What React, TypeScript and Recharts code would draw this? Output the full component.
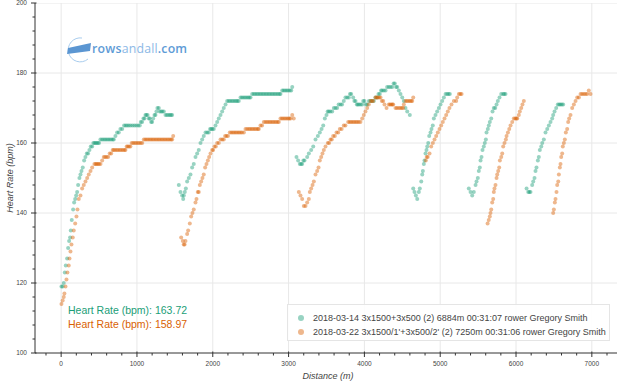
import React from "react";
import { ScatterChart, Scatter, XAxis, YAxis, ReferenceLine } from "recharts";

// ---- data: [distance (m), heart rate (bpm)] ----
const greenPoints: [number, number][] = [
  [4,119],[20,119],[34,120],[48,123],[61,125],[79,127],[92,130],[105,132],[118,133],[127,135],[140,138],[158,141],[171,143],[185,144],[198,145],[211,146],[224,148],[241,150],[255,151],[268,152],[285,153],[303,155],[320,156],[338,157],[355,157],[373,158],[390,159],[409,159],[425,160],[440,160],[455,160],[470,160],[485,160],[500,160],[518,161],[540,161],[560,161],[580,161],[600,161],[620,161],[640,161],[660,161],[680,161],[694,161],[716,162],[738,163],[760,163],[782,164],[805,164],[830,165],[850,165],[870,165],[892,165],[915,165],[940,165],[965,165],[990,165],[1015,165],[1037,165],[1050,166],[1068,166],[1085,167],[1099,167],[1112,168],[1125,168],[1140,168],[1156,167],[1170,167],[1187,166],[1200,166],[1214,167],[1231,168],[1244,168],[1257,169],[1270,170],[1288,170],[1300,169],[1319,169],[1335,169],[1354,169],[1376,168],[1395,168],[1415,168],[1435,168],[1450,168],[1464,168],
  [1552,148],[1574,146],[1596,145],[1610,144],[1618,145],[1631,146],[1645,147],[1662,149],[1684,150],[1706,151],[1728,153],[1749,154],[1772,156],[1794,157],[1815,158],[1838,160],[1860,161],[1881,162],[1904,163],[1926,163],[1947,163],[1965,164],[1979,164],[1995,164],[2013,164],[2036,165],[2058,166],[2079,167],[2102,168],[2124,169],[2145,170],[2168,171],[2190,172],[2210,172],[2230,172],[2250,172],[2270,172],[2290,172],[2310,172],[2325,172],[2343,172],[2366,173],[2385,173],[2405,173],[2425,173],[2445,173],[2465,173],[2482,173],[2498,173],[2520,174],[2540,174],[2560,174],[2580,174],[2600,174],[2620,174],[2640,174],[2660,174],[2680,174],[2700,174],[2720,174],[2740,174],[2760,174],[2780,174],[2800,174],[2820,174],[2840,174],[2860,174],[2880,174],[2893,174],[2916,175],[2935,175],[2955,175],[2975,175],[2995,175],[3015,175],[3035,175],[3048,176],
  [3104,156],[3126,155],[3148,154],[3165,154],[3179,154],[3195,155],[3210,155],[3245,156],[3267,157],[3298,158],[3325,159],[3355,161],[3386,162],[3412,163],[3435,164],[3457,165],[3478,167],[3500,168],[3515,169],[3531,169],[3550,169],[3575,169],[3597,170],[3619,170],[3640,170],[3660,171],[3685,171],[3705,171],[3728,172],[3750,173],[3773,173],[3795,173],[3810,174],[3826,174],[3852,173],[3868,172],[3883,172],[3900,171],[3913,171],[3930,171],[3950,171],[3971,171],[3985,172],[4001,172],[4020,171],[4037,171],[4060,172],[4081,172],[4100,172],[4124,172],[4146,173],[4169,173],[4186,174],[4203,174],[4220,175],[4235,175],[4257,175],[4279,175],[4300,176],[4322,176],[4345,176],[4367,176],[4385,177],[4401,177],[4418,176],[4433,176],[4454,175],[4476,174],[4499,173],[4520,172],[4542,170],[4565,169],[4599,168],
  [4644,147],[4661,146],[4679,145],[4697,144],[4718,146],[4731,147],[4750,149],[4763,151],[4771,152],[4784,154],[4793,155],[4806,157],[4819,158],[4829,159],[4842,160],[4855,162],[4872,163],[4885,164],[4902,165],[4916,167],[4938,168],[4960,169],[4982,170],[5004,171],[5026,172],[5048,173],[5071,174],[5092,174],[5110,174],[5127,174],
  [5377,147],[5400,146],[5422,145],[5443,146],[5466,148],[5479,149],[5496,150],[5509,152],[5522,153],[5532,155],[5545,156],[5558,158],[5575,159],[5588,160],[5602,161],[5611,163],[5628,164],[5641,165],[5654,166],[5673,167],[5690,169],[5707,170],[5726,170],[5743,171],[5760,172],[5782,173],[5805,174],[5831,174],[5845,174],[5861,174],
  [6139,147],[6161,146],[6176,146],[6191,146],[6213,148],[6227,149],[6244,150],[6257,152],[6270,153],[6288,155],[6301,156],[6314,158],[6333,159],[6346,160],[6367,161],[6389,163],[6412,164],[6433,165],[6455,166],[6477,167],[6490,168],[6508,169],[6530,170],[6551,171],[6570,171],[6587,171],[6605,171],[6622,171],
];

const orangePoints: [number, number][] = [
  [4,114],[20,115],[34,116],[43,117],[57,119],[70,121],[83,123],[100,125],[110,127],[123,129],[136,131],[153,133],[166,135],[185,137],[202,139],[215,141],[232,144],[255,145],[277,147],[298,148],[321,149],[343,150],[364,151],[387,152],[409,153],[439,154],[455,154],[470,154],[485,154],[500,154],[519,154],[541,155],[562,156],[580,156],[600,156],[620,156],[640,157],[660,157],[680,158],[694,158],[715,158],[735,158],[755,158],[775,158],[795,158],[815,158],[835,158],[848,158],[864,159],[879,159],[896,159],[914,159],[930,160],[950,160],[970,160],[990,160],[1010,160],[1030,160],[1050,160],[1070,160],[1090,161],[1110,161],[1130,161],[1150,161],[1170,161],[1190,161],[1210,161],[1230,161],[1250,161],[1270,161],[1290,161],[1310,161],[1330,161],[1350,161],[1370,161],[1390,161],[1410,161],[1430,161],[1450,161],[1464,161],[1478,162],
  [1583,133],[1605,132],[1617,131],[1628,131],[1640,132],[1662,134],[1675,135],[1697,137],[1715,139],[1732,140],[1749,141],[1772,143],[1785,144],[1802,146],[1815,146],[1829,148],[1847,149],[1864,150],[1881,151],[1899,153],[1917,154],[1935,155],[1952,156],[1970,157],[1992,158],[2005,158],[2022,159],[2040,159],[2058,160],[2080,160],[2102,161],[2125,161],[2145,161],[2163,162],[2181,162],[2200,162],[2224,163],[2245,163],[2265,163],[2285,163],[2305,163],[2325,163],[2345,163],[2365,163],[2385,163],[2410,163],[2432,164],[2454,164],[2475,164],[2495,164],[2515,164],[2535,164],[2555,164],[2575,164],[2595,164],[2607,164],[2629,165],[2650,165],[2673,166],[2695,166],[2715,166],[2735,166],[2755,166],[2775,166],[2795,166],[2815,166],[2835,166],[2855,166],[2871,166],[2893,167],[2913,167],[2933,167],[2953,167],[2973,167],[2993,167],[3010,167],[3026,167],[3048,168],[3068,167],
  [3135,146],[3157,145],[3179,144],[3201,142],[3223,142],[3245,143],[3267,144],[3280,146],[3298,147],[3316,148],[3333,149],[3355,151],[3377,152],[3395,153],[3412,155],[3430,156],[3447,157],[3465,158],[3487,159],[3517,160],[3535,160],[3553,161],[3570,161],[3588,162],[3610,162],[3632,163],[3655,163],[3676,164],[3700,164],[3728,165],[3750,165],[3786,166],[3805,166],[3825,166],[3845,166],[3865,166],[3885,166],[3905,166],[3925,166],[3948,166],[3971,167],[3992,168],[4014,169],[4037,170],[4058,171],[4081,172],[4100,172],[4116,172],[4146,173],[4160,173],[4177,173],[4195,173],[4213,173],[4230,172],[4248,172],[4265,171],[4292,170],[4322,171],[4338,171],[4354,171],[4370,171],[4380,171],[4410,170],[4430,170],[4454,170],[4476,170],[4495,170],[4512,170],[4520,171],[4542,172],[4560,172],[4580,172],[4600,172],[4618,172],[4631,172],[4644,173],
  [4810,155],[4822,156],[4835,156],[4859,157],[4881,159],[4903,160],[4925,161],[4947,162],[4968,163],[4991,164],[5013,165],[5034,166],[5057,167],[5079,168],[5100,169],[5122,170],[5149,171],[5180,172],[5211,172],[5224,173],[5246,174],[5265,174],[5282,174],
  [5625,137],[5640,138],[5654,139],[5663,140],[5673,141],[5686,143],[5699,144],[5707,146],[5716,147],[5729,148],[5743,150],[5752,151],[5765,152],[5778,153],[5787,155],[5805,156],[5818,157],[5831,159],[5848,160],[5866,161],[5875,162],[5893,163],[5911,164],[5928,165],[5950,166],[5971,167],[5990,167],[6005,167],[6016,167],[6037,168],[6050,169],[6069,170],[6085,171],[6103,172],
  [6490,140],[6499,141],[6512,143],[6521,144],[6534,146],[6543,148],[6557,149],[6565,151],[6578,153],[6587,154],[6596,156],[6609,157],[6617,159],[6631,160],[6644,161],[6657,163],[6675,164],[6688,166],[6701,167],[6719,168],[6741,170],[6763,171],[6785,172],[6807,173],[6829,173],[6851,174],[6873,174],[6895,174],[6917,174],[6939,174],[6960,175],[6983,174],
];

const seriesNames = [
  "2018-03-14 3x1500+3x500 (2) 6884m 00:31:07 rower Gregory Smith",
  "2018-03-22 3x1500/1'+3x500/2' (2) 7250m 00:31:06 rower Gregory Smith",
];
const averageLabels = ["Heart Rate (bpm): 163.72", "Heart Rate (bpm): 158.97"];
const xMajorTicks = [0, 1000, 2000, 3000, 4000, 5000, 6000, 7000];
const yMajorTicks = [120, 140, 160, 180, 200];
const xMinorStep = 200;
const yMinorStep = 4;

const GREEN = "#1b9e77";
const ORANGE = "#d95f02";
const FONT = "'Liberation Sans', Helvetica, Arial, sans-serif";

const greenData = greenPoints.map(([d, hr]) => ({ d, hr }));
const orangeData = orangePoints.map(([d, hr]) => ({ d, hr }));

const xTicks: number[] = [];
for (let v = -200; v <= 7200; v += xMinorStep) xTicks.push(v);
const yTicks: number[] = [];
for (let v = 100; v <= 200; v += yMinorStep) yTicks.push(v);

const XTick = (props: any) => {
  const { x, y, payload } = props;
  const v = payload.value;
  const major = v % 1000 === 0;
  return (
    <g>
      <line x1={x} x2={x} y1={y - (major ? 1.5 : 0)} y2={y + (major ? 4 : 2.5)} stroke="#333" strokeWidth={1} />
      {major && (
        <text x={x} y={y + 13} textAnchor="middle" fontSize={6.5} fill="#444" fontFamily={FONT}>
          {v}
        </text>
      )}
    </g>
  );
};

const YTick = (props: any) => {
  const { x, y, payload } = props;
  const v = payload.value;
  const major = v % 20 === 0;
  return (
    <g>
      <line x1={x - (major ? 4 : 2.5)} x2={x + (major ? 1.5 : 0)} y1={y} y2={y} stroke="#333" strokeWidth={1} />
      {major && (
        <text x={x - 8} y={y + 2.3} textAnchor="end" fontSize={6.5} fill="#444" fontFamily={FONT}>
          {v}
        </text>
      )}
    </g>
  );
};

const dot = (color: string) => (props: any) => (
  <circle cx={props.cx} cy={props.cy} r={2} fill={color} fillOpacity={0.45} />
);

export default function App() {
  return (
    <div style={{ position: "absolute", left: 0, top: 0, width: 620, height: 384, background: "#fff", fontFamily: FONT }}>
      <ScatterChart width={620} height={384} margin={{ top: 3, right: 3, bottom: 0, left: 0 }}>
        {xMajorTicks.map((v) => (
          <ReferenceLine key={"gx" + v} x={v} stroke="#e8e8e8" strokeWidth={1} ifOverflow="hidden" />
        ))}
        {yMajorTicks.map((v) => (
          <ReferenceLine key={"gy" + v} y={v} stroke="#e8e8e8" strokeWidth={1} ifOverflow="hidden" />
        ))}
        <XAxis
          type="number"
          dataKey="d"
          domain={[-345, 7332]}
          ticks={xTicks}
          interval={0}
          height={31}
          tickSize={0}
          tickMargin={0}
          tickLine={false}
          axisLine={{ stroke: "#333" }}
          tick={<XTick />}
          allowDataOverflow
        />
        <YAxis
          type="number"
          dataKey="hr"
          domain={[100, 200]}
          ticks={yTicks}
          interval={0}
          width={35}
          tickSize={0}
          tickMargin={0}
          tickLine={false}
          axisLine={{ stroke: "#333" }}
          tick={<YTick />}
          allowDataOverflow
        />
        <Scatter data={greenData} shape={dot(GREEN)} isAnimationActive={false} />
        <Scatter data={orangeData} shape={dot(ORANGE)} isAnimationActive={false} />
      </ScatterChart>

      {/* axis titles */}
      <div style={{ position: "absolute", left: 10, top: 178, transform: "translate(-50%,-50%) rotate(-90deg)", fontSize: 9, fontStyle: "italic", color: "#444", whiteSpace: "nowrap" }}>
        Heart Rate (bpm)
      </div>
      <div style={{ position: "absolute", left: 328, top: 376, transform: "translate(-50%,-50%)", fontSize: 9, fontStyle: "italic", color: "#444", whiteSpace: "nowrap" }}>
        Distance (m)
      </div>

      {/* average labels */}
      <div style={{ position: "absolute", left: 68, top: 303, fontSize: 10.5, lineHeight: "14px", whiteSpace: "nowrap" }}>
        <div style={{ color: GREEN }}>{averageLabels[0]}</div>
        <div style={{ color: ORANGE }}>{averageLabels[1]}</div>
      </div>

      {/* legend */}
      <div style={{ position: "absolute", left: 287, top: 304, width: 323, height: 37, border: "1px solid #e5e5e5", background: "rgba(255,255,255,0.9)", boxSizing: "border-box" }}>
        {seriesNames.map((name, i) => (
          <div key={name} style={{ position: "absolute", left: 8, top: 7 + i * 13.5, height: 12, display: "flex", alignItems: "center", whiteSpace: "nowrap", fontSize: 9, color: "#444" }}>
            <svg width={10} height={10} style={{ marginRight: 7 }}>
              <circle cx={5} cy={5} r={3} fill={i === 0 ? GREEN : ORANGE} fillOpacity={0.45} />
            </svg>
            {name}
          </div>
        ))}
      </div>

      {/* logo */}
      <svg style={{ position: "absolute", left: 62, top: 35 }} width={135} height={28}>
        <path d="M 20 3 A 12 12 0 1 0 26 24" fill="none" stroke="#a9cdee" strokeWidth={1} />
        <polygon points="6,13 29,8 28,16 5,19" fill="#5b96d2" />
        <text x={30} y={18} fontSize={12.3} fontFamily="'Open Sans', sans-serif" letterSpacing={0.2}>
          <tspan fill="#5e9bd6" fontWeight={600}>rows</tspan>
          <tspan fill="#8cb9e6">andall</tspan>
          <tspan fill="#5e9bd6" fontWeight={600}>.com</tspan>
        </text>
      </svg>
    </div>
  );
}
